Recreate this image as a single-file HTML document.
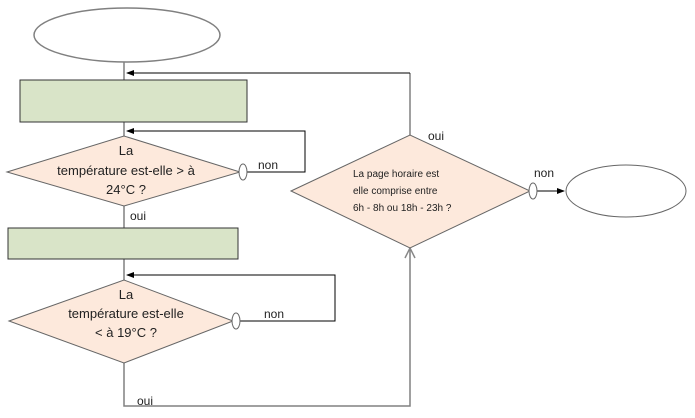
<!DOCTYPE html>
<html><head><meta charset="utf-8"><style>body{margin:0;background:#fff}svg{display:block}text{font-family:"Liberation Sans",sans-serif;fill:#222}</style></head>
<body>
<svg width="695" height="418" viewBox="0 0 695 418" xmlns="http://www.w3.org/2000/svg">
<defs><marker id="a" markerWidth="8" markerHeight="6" refX="7" refY="3" orient="auto"><path d="M0,0L8,3L0,6z" fill="#000"/></marker></defs>
<g stroke="#808080" stroke-width="1.5" fill="none">
<ellipse cx="127" cy="35" rx="93" ry="27" fill="#fff"/>
<line x1="124" y1="62" x2="124" y2="80"/>
<line x1="124" y1="122" x2="124" y2="136"/>
<line x1="124" y1="206" x2="124" y2="228"/>
<line x1="124" y1="259" x2="124" y2="280"/>
<polyline points="124,363 124,406 410,406 410,248"/>
<polyline points="405,258 410,248 415,258" stroke="#888"/>
<line x1="410" y1="135" x2="410" y2="73"/>
</g>
<g stroke="#000" stroke-width="1" fill="none">
<line x1="410" y1="73" x2="127" y2="73" marker-end="url(#a)"/>
<polyline points="247,172 305,172 305,131 127,131" marker-end="url(#a)"/>
<polyline points="240,321 335,321 335,275 127,275" marker-end="url(#a)"/>
<line x1="537" y1="191" x2="564" y2="191" marker-end="url(#a)"/>
</g>
<g stroke="#333" stroke-width="1">
<rect x="20" y="80" width="227" height="42" fill="#d9e4c8"/>
<rect x="8" y="228" width="230" height="31" fill="#d9e4c8"/>
</g>
<g stroke="#666" stroke-width="1" fill="#fde9dc">
<polygon points="7,172 124,136 240,172 124,206"/>
<polygon points="9,321 124,280 233,321 124,363"/>
<polygon points="291,191 410,135 530,191 410,248"/>
</g>
<g stroke="#666" stroke-width="1" fill="#fff">
<ellipse cx="243" cy="172" rx="4" ry="8"/>
<ellipse cx="236" cy="321" rx="4" ry="8"/>
<ellipse cx="533" cy="191" rx="4" ry="8"/>
<ellipse cx="626" cy="191" rx="60" ry="26"/>
</g>
<g font-size="13" text-anchor="middle">
<text x="126" y="155">La</text>
<text x="126" y="175">température est-elle &gt; à</text>
<text x="126" y="194">24°C ?</text>
<text x="126" y="299">La</text>
<text x="126" y="318">température est-elle</text>
<text x="126" y="337">&lt; à 19°C ?</text>
</g>
<g font-size="10">
<text x="353" y="177">La page horaire est</text>
<text x="353" y="194">elle comprise entre</text>
<text x="353" y="211">6h - 8h ou 18h - 23h ?</text>
</g>
<g font-size="12">
<text x="258" y="169">non</text>
<text x="264" y="318">non</text>
<text x="534" y="177">non</text>
<text x="428" y="140">oui</text>
<text x="130" y="220">oui</text>
<text x="137" y="405">oui</text>
</g>
</svg>
</body></html>
